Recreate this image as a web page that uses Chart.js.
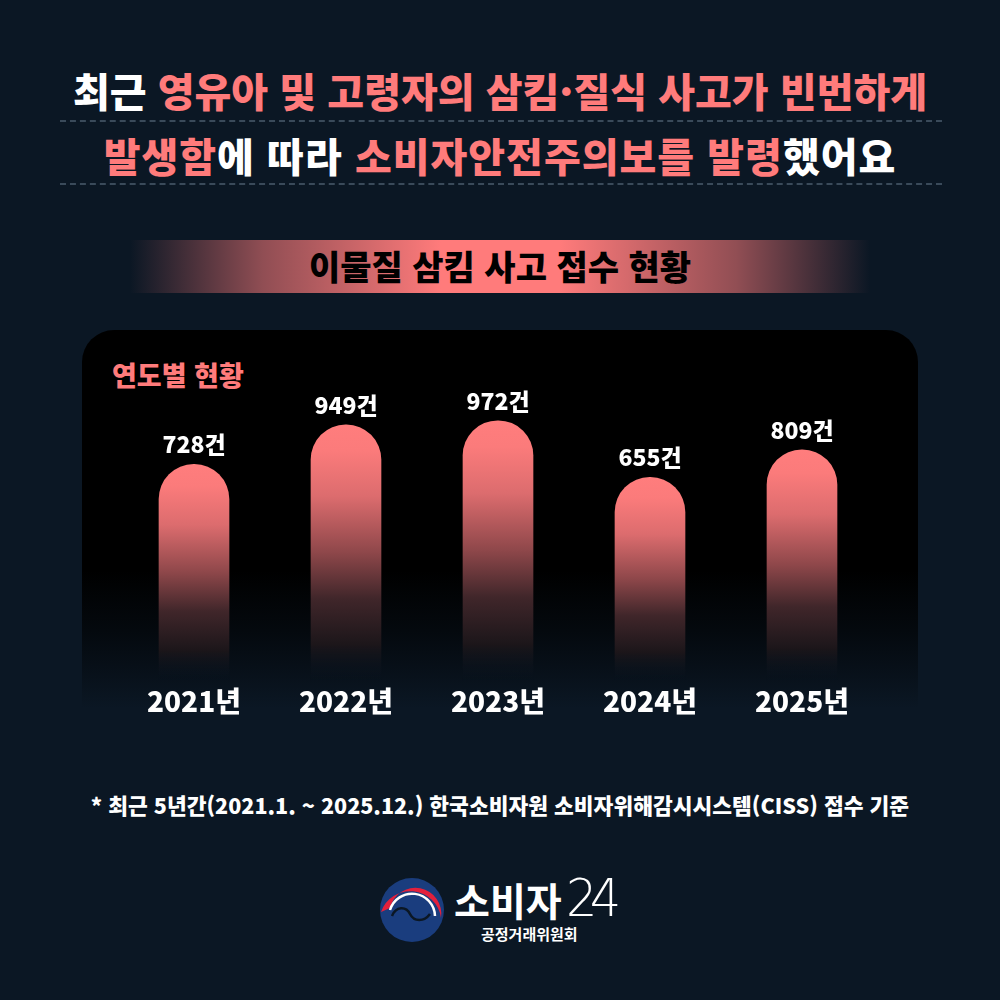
<!DOCTYPE html>
<html lang="ko">
<head>
<meta charset="utf-8">
<script src="https://cdn.jsdelivr.net/npm/chart.js@4/dist/chart.umd.min.js"></script>
<style>
  html,body{margin:0;padding:0;}
  body{width:1000px;height:1000px;background:#0b1724;position:relative;overflow:hidden;font-family:"Noto Sans CJK KR","Noto Sans",sans-serif;}
  .t{position:absolute;left:0;width:1000px;text-align:center;font-weight:900;white-space:nowrap;}
  .title{font-size:40px;line-height:40px;color:#fff;}
  .pk{color:#ff7b7b;}
  .dots{position:absolute;left:60px;width:882px;height:0;border-top:2px dashed #3a4a5a;}
  .banner{position:absolute;left:130px;width:740px;top:240px;height:53px;
    background:linear-gradient(to right, rgba(255,123,123,0) 0%, rgba(255,123,123,0.55) 18%, #ff7b7b 42%, #ff7b7b 58%, rgba(255,123,123,0.55) 82%, rgba(255,123,123,0) 100%);}
  .btxt{font-size:34px;line-height:34px;color:#000;top:249px;}
  .panel{position:absolute;left:82px;top:330px;width:836px;height:430px;border-radius:32px;
    background:linear-gradient(to bottom,#000 0%,#000 56%,#04090e 70%,#0b1724 88%);}
  .sub{position:absolute;left:112px;top:361px;font-size:27px;line-height:27px;font-weight:900;color:#ff7b7b;}
  #wrap{position:absolute;left:82px;top:330px;width:836px;height:392px;}
  .foot{font-size:21.5px;line-height:22px;color:#fff;top:794px;}
  .logo{position:absolute;left:378px;top:876px;}
  .l1{position:absolute;left:454px;top:880px;font-size:39px;line-height:39px;color:#fff;font-weight:700;}
  .l24{position:absolute;left:566px;top:872px;font-size:52px;line-height:52px;color:#fff;font-weight:200;font-family:"DejaVu Sans","Noto Sans",sans-serif;letter-spacing:-8px;transform:scaleX(0.95);transform-origin:left;}
  .l2{position:absolute;left:481px;top:926px;font-size:15px;line-height:15px;color:#fff;font-weight:700;}
</style>
</head>
<body>
<div class="t title" style="top:70px;">최근 <span class="pk">영유아 및 고령자의 삼킴·질식 사고가 빈번하게</span></div>
<div class="dots" style="top:120px;"></div>
<div class="t title" style="top:135px;letter-spacing:1px;"><span class="pk">발생함</span>에 따라 <span class="pk">소비자안전주의보를 발령</span>했어요</div>
<div class="dots" style="top:183px;"></div>

<div class="banner"></div>
<div class="t btxt">이물질 삼킴 사고 접수 현황</div>

<div class="panel"></div>
<div class="sub">연도별 현황</div>
<div id="wrap"><canvas id="c" width="836" height="392"></canvas></div>

<div class="t foot">* 최근 5년간(2021.1. ~ 2025.12.) 한국소비자원 소비자위해감시시스템(CISS) 접수 기준</div>

<svg class="logo" width="70" height="70" viewBox="0 0 70 70">
  <circle cx="34" cy="34" r="32" fill="#1a3d7e"/>
  <path d="M3 36 A31 31 0 0 1 63 42 A26 26 0 0 0 12 32 Z" fill="#e3203c"/>
  <path d="M12 34 A23 23 0 0 1 57 40" fill="none" stroke="#ffffff" stroke-width="2.5"/>
  <path d="M14 40 C18 30 28 30 32 38 C36 46 46 46 52 38" fill="none" stroke="#0b1724" stroke-width="2.5"/>
</svg>
<div class="l1">소비자</div>
<div class="l24">24</div>
<div class="l2">공정거래위원회</div>

<script>
const years = ["2021년","2022년","2023년","2024년","2025년"];
const counts = [728, 949, 972, 655, 809];
const unit = "건";
const axisMin = -480;
const axisMax = 1200;

const valueLabels = {
  id: 'valueLabels',
  afterDatasetsDraw(chart) {
    const ctx = chart.ctx;
    const meta = chart.getDatasetMeta(0);
    ctx.save();
    ctx.fillStyle = '#ffffff';
    ctx.font = '900 23px "Noto Sans CJK KR", sans-serif';
    ctx.textAlign = 'center';
    ctx.textBaseline = 'middle';
    meta.data.forEach((el, i) => {
      ctx.fillText(counts[i] + unit, el.x, el.y - 20);
    });
    ctx.restore();
  }
};

function barFill(context) {
  const chart = context.chart;
  const area = chart.chartArea;
  if (!area || context.dataIndex === undefined) return '#ff7b7b';
  const y = chart.scales.y;
  const top = y.getPixelForValue(counts[context.dataIndex]);
  const bottom = area.bottom;
  const g = chart.ctx.createLinearGradient(0, top, 0, bottom);
  g.addColorStop(0, '#ff7d7d');
  g.addColorStop(0.1, '#fb7b7b');
  g.addColorStop(0.28, '#dc6c6e');
  g.addColorStop(0.5, '#8e474a');
  g.addColorStop(0.68, '#40262a');
  g.addColorStop(0.86, '#1c161a');
  g.addColorStop(1, 'rgba(11,23,36,0)');
  return g;
}

new Chart(document.getElementById('c'), {
  type: 'bar',
  data: {
    labels: years,
    datasets: [{
      data: counts,
      base: axisMin,
      backgroundColor: barFill,
      borderWidth: 0,
      borderRadius: 35,
      borderSkipped: 'start',
      barThickness: 70
    }]
  },
  options: {
    responsive: false,
    animation: false,
    layout: { padding: { top: 50, left: 36, right: 40, bottom: 0 } },
    plugins: { legend: { display: false }, tooltip: { enabled: false } },
    scales: {
      x: {
        grid: { display: false, drawTicks: false },
        border: { display: false },
        ticks: {
          color: '#ffffff',
          padding: 4,
          font: { family: '"Noto Sans CJK KR", sans-serif', size: 28, weight: '900' }
        }
      },
      y: {
        display: false,
        min: axisMin,
        max: axisMax
      }
    }
  },
  plugins: [valueLabels]
});
</script>
</body>
</html>
